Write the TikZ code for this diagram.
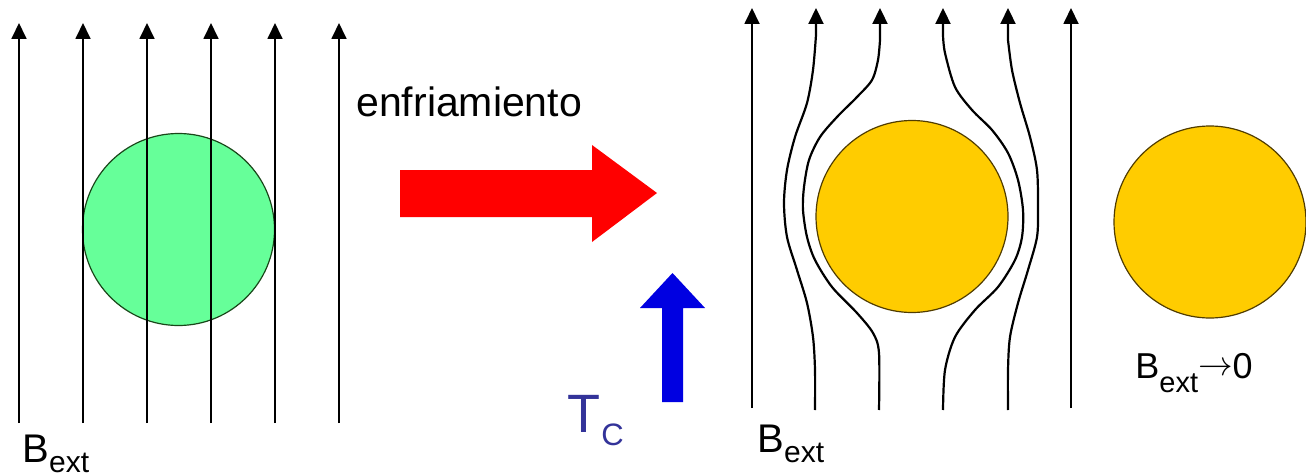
\documentclass[tikz,border=0pt]{standalone}
\usepackage{fontspec}
\setmainfont{Liberation Sans}
\usetikzlibrary{arrows.meta}

\definecolor{normalgreen}{RGB}{102,255,153}
\definecolor{greenedge}{RGB}{25,70,25}
\definecolor{scyellow}{RGB}{255,204,0}
\definecolor{yellowedge}{RGB}{80,60,0}
\definecolor{coolred}{RGB}{255,0,0}
\definecolor{tcblue}{RGB}{0,0,225}
\definecolor{tctext}{RGB}{51,51,153}

\begin{document}
\begin{tikzpicture}[x=0.5pt,y=-0.5pt,>={Triangle[length=8pt,width=7.5pt]},
  fieldline/.style={line width=0.9pt,->},
  bentline/.style={line width=1.1pt,->},
  sphere/.style={circle,draw,line width=0.6pt,minimum size=96pt,inner sep=0pt},
  txt/.style={inner sep=0pt,anchor=base west}]
  \useasboundingbox (0,0) rectangle (1306,476);

  % normal state: field goes straight through
  \node[sphere,fill=normalgreen,draw=greenedge] (normal) at (178.5,229.5) {};
  \foreach \x in {19,83,147,211,275,339}
    \draw[fieldline] (\x,423) -- (\x,23);
  \node[txt,font=\fontsize{20}{24}\selectfont] (bleft) at (22,462)
    {B\raisebox{-5pt}{\fontsize{15}{18}\selectfont ext}};

  % cooling arrow and Tc
  \node[txt,font=\fontsize{20.5}{24}\selectfont] (cooling) at (356,117) {enfriamiento};
  \fill[coolred] (400,170) -- (592,170) -- (592,145) -- (657,193) -- (592,242)
    -- (592,217) -- (400,217) -- cycle;
  \fill[tcblue] (662,402) -- (662,308) -- (640,308) -- (672.5,273) -- (705,308)
    -- (683,308) -- (683,402) -- cycle;
  \node[txt,font=\fontsize{27}{30}\selectfont,text=tctext] (tc) at (567,432)
    {T\kern0.5pt\raisebox{-6.5pt}{\fontsize{15.5}{18}\selectfont C}};

  % superconducting state: field expelled
  \node[sphere,fill=scyellow,draw=yellowedge] (super) at (912,216.5) {};
  \draw[fieldline] (752,408) -- (752,8);
  \draw[fieldline] (1071,408) -- (1071,8);
  \draw[bentline] plot[smooth] coordinates {(815,410) (815,370) (813,337) (807,303)
    (797,270) (787,237) (784,203) (787,170) (795,137) (807,103) (813,70) (816,35)}
    -- (816,8);
  \draw[bentline] plot[smooth] coordinates {(879,410) (879,353) (873,333) (857,313)
    (832,287) (815,260) (807,237) (803,210) (804,187) (809,160) (820,137) (837,117)
    (857,97) (872,80) (878,60) (880,40)} -- (880,8);
  \draw[bentline] plot[smooth] coordinates {(943,410) (945,370) (955,337) (975,310)
    (998,287) (1015,260) (1022,237) (1023,210) (1018,180) (1008,153) (992,130)
    (972,110) (955,87) (945,53) (943,35)} -- (943,8);
  \draw[bentline] plot[smooth] coordinates {(1008,410) (1008,370) (1010,337) (1018,303)
    (1028,270) (1037,237) (1038,207) (1037,170) (1030,137) (1020,103) (1012,70)
    (1008,40)} -- (1008,8);
  \node[txt,font=\fontsize{20}{24}\selectfont] (bright) at (757,452)
    {B\raisebox{-5pt}{\fontsize{15}{18}\selectfont ext}};

  % without external field
  \node[sphere,fill=scyellow,draw=yellowedge] (nofield) at (1210,222) {};
  \node[txt,font=\fontsize{18}{22}\selectfont] (bzero) at (1135,378)
    {B\raisebox{-7pt}{\fontsize{14.5}{17}\selectfont ext}\raisebox{1.5pt}{$\rightarrow$}0};
\end{tikzpicture}
\end{document}
